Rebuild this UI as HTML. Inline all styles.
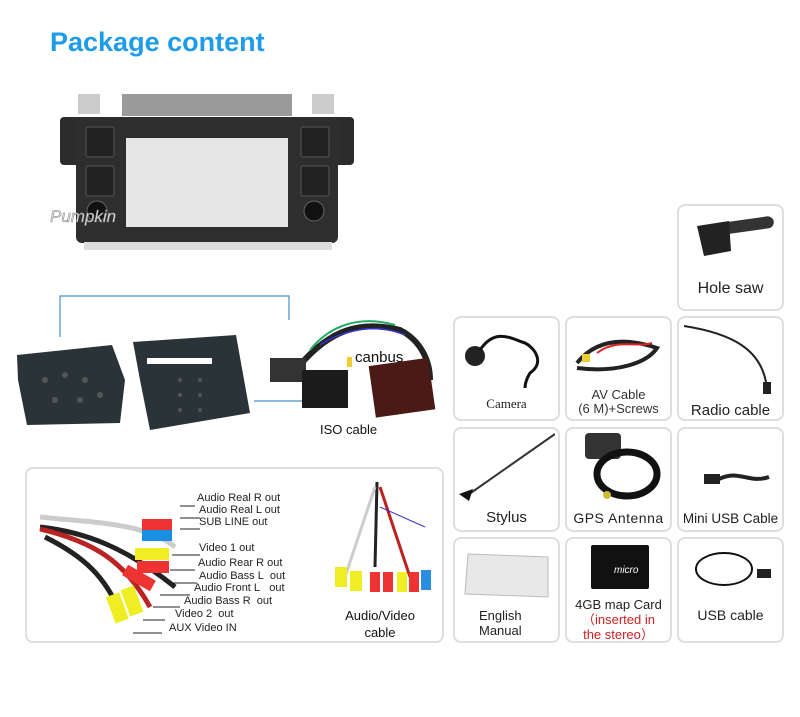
<!DOCTYPE html>
<html><head><meta charset="utf-8"><style>
body{margin:0;width:800px;height:717px;background:#fff;position:relative;overflow:hidden;font-family:"Liberation Sans","DejaVu Sans",sans-serif}
.a{position:absolute}
.box{position:absolute;border:2px solid #dedede;border-radius:8px;box-sizing:border-box;background:#fff}
.lbl{position:absolute;left:0;right:0;text-align:center;color:#222}
.av{position:absolute;font-size:11px;color:#222;white-space:nowrap}
</style></head><body>
<div class="a" style="left:50px;top:27px;font-size:27px;font-weight:bold;color:#1e9be9">Package content</div>

<!-- head unit -->
<svg class="a" style="left:0;top:80px" width="450" height="370" viewBox="0 0 450 370">
<rect x="122" y="14" width="170" height="22" fill="#9a9a9a"/>
<rect x="78" y="14" width="22" height="20" fill="#ccc"/><rect x="312" y="14" width="22" height="20" fill="#ccc"/>
<rect x="60" y="37" width="294" height="48" rx="4" fill="#2c2c2c"/>
<rect x="76" y="37" width="262" height="126" rx="6" fill="#2e2e2e"/>
<rect x="84" y="162" width="248" height="8" fill="#ddd"/>
<rect x="126" y="58" width="162" height="89" fill="#e6e6e6"/>
<rect x="86" y="47" width="28" height="30" rx="2" fill="#222" stroke="#555"/>
<rect x="86" y="86" width="28" height="30" rx="2" fill="#222" stroke="#555"/>
<rect x="301" y="47" width="28" height="30" rx="2" fill="#222" stroke="#555"/>
<rect x="301" y="86" width="28" height="30" rx="2" fill="#222" stroke="#555"/>
<circle cx="314" cy="131" r="10" fill="#111" stroke="#666"/>
<circle cx="97" cy="131" r="10" fill="#111" stroke="#666"/>
<text x="50" y="142" font-size="17" font-style="italic" fill="#ddd" stroke="#888" stroke-width=".5">Pumpkin</text>
<!-- blue line -->
<polyline points="60,257 60,216 289,216 289,240" fill="none" stroke="#4a90c8" stroke-width="1.2"/>
<line x1="254" y1="321" x2="302" y2="321" stroke="#4a90c8" stroke-width="1.2"/>
<!-- connectors -->
<polygon points="17,275 112,265 125,300 120,343 27,345 18,300" fill="#2a3338"/>
<polygon points="133,262 236,255 250,333 150,350 140,300" fill="#2a3338"/>
<rect x="147" y="278" width="65" height="6" fill="#fff"/>
<g fill="#555"><circle cx="45" cy="300" r="3"/><circle cx="65" cy="295" r="3"/><circle cx="85" cy="300" r="3"/><circle cx="55" cy="320" r="3"/><circle cx="80" cy="320" r="3"/><circle cx="100" cy="315" r="3"/><circle cx="180" cy="300" r="2"/><circle cx="200" cy="300" r="2"/><circle cx="180" cy="315" r="2"/><circle cx="200" cy="315" r="2"/><circle cx="180" cy="330" r="2"/><circle cx="200" cy="330" r="2"/></g>
<!-- iso cable -->
<path d="M300,285 C330,250 360,240 400,250 C420,260 430,280 430,300" fill="none" stroke="#222" stroke-width="6"/>
<path d="M310,270 C330,245 360,235 395,245" fill="none" stroke="#2a6" stroke-width="2"/>
<path d="M320,265 C335,255 370,240 405,255" fill="none" stroke="#33c" stroke-width="1.5"/>
<rect x="270" y="278" width="36" height="24" fill="#333"/>
<rect x="302" y="290" width="46" height="38" fill="#1b1b1b"/>
<rect x="347" y="277" width="5" height="10" fill="#ec3"/>
<rect x="372" y="282" width="60" height="52" fill="#4a1b16" transform="rotate(-8 400 308)"/>
<text x="355" y="282" font-size="15" fill="#111">canbus</text>
<text x="320" y="354" font-size="13" fill="#111">ISO cable</text>
</svg>

<!-- AV box -->
<div class="box" style="left:25px;top:467px;width:419px;height:176px"></div>
<svg class="a" style="left:25px;top:467px" width="419" height="176">
<g stroke-width="5" fill="none"><path d="M15,60 C60,65 100,80 150,120" stroke="#222"/><path d="M15,62 C70,75 100,95 125,140" stroke="#b22"/><path d="M15,50 C60,55 120,55 150,80" stroke="#ccc"/><path d="M20,70 C60,90 80,110 95,145" stroke="#222"/></g>
<rect x="117" y="52" width="30" height="12" fill="#e33"/><rect x="117" y="63" width="30" height="11" fill="#1a8ee0"/>
<rect x="110" y="81" width="34" height="12" fill="#ee2"/><rect x="112" y="94" width="32" height="12" fill="#e33"/>
<rect x="98" y="105" width="32" height="12" fill="#e33" transform="rotate(30 114 111)"/>
<rect x="85" y="127" width="14" height="28" fill="#ee2" transform="rotate(-20 92 140)"/><rect x="100" y="120" width="14" height="28" fill="#ee2" transform="rotate(-20 107 134)"/>
<g stroke="#222"><line x1="155" y1="39" x2="170" y2="39"/><line x1="155" y1="51" x2="175" y2="51"/><line x1="155" y1="62" x2="175" y2="62"/><line x1="147" y1="88" x2="175" y2="88"/><line x1="145" y1="103" x2="170" y2="103"/><line x1="142" y1="116" x2="172" y2="116"/><line x1="135" y1="128" x2="165" y2="128"/><line x1="128" y1="140" x2="155" y2="140"/><line x1="118" y1="153" x2="140" y2="153"/><line x1="108" y1="166" x2="137" y2="166"/></g>
<g stroke-width="3" fill="none"><path d="M352,15 L350,100" stroke="#222"/><path d="M350,20 L320,110" stroke="#ccc"/><path d="M355,20 L385,110" stroke="#b22"/><path d="M355,40 L400,60" stroke="#33c" stroke-width="1"/></g>
<rect x="310" y="100" width="12" height="20" fill="#ee2"/><rect x="325" y="104" width="12" height="20" fill="#ee2"/><rect x="345" y="105" width="10" height="20" fill="#e33"/><rect x="358" y="105" width="10" height="20" fill="#e33"/><rect x="372" y="105" width="10" height="20" fill="#ee2"/><rect x="384" y="105" width="10" height="20" fill="#e33"/><rect x="396" y="103" width="10" height="20" fill="#2a8ee0"/>
</svg>
<div class="av" style="left:197px;top:492px">Audio Real R out</div>
<div class="av" style="left:199px;top:504px">Audio Real L out</div>
<div class="av" style="left:199px;top:516px">SUB LINE out</div>
<div class="av" style="left:199px;top:542px">Video 1 out</div>
<div class="av" style="left:198px;top:557px">Audio Rear R out</div>
<div class="av" style="left:199px;top:570px">Audio Bass L&nbsp; out</div>
<div class="av" style="left:194px;top:582px">Audio Front L&nbsp;&nbsp; out</div>
<div class="av" style="left:184px;top:595px">Audio Bass R&nbsp; out</div>
<div class="av" style="left:175px;top:608px">Video 2&nbsp; out</div>
<div class="av" style="left:169px;top:622px">AUX Video IN</div>
<div class="a" style="left:330px;top:607px;width:100px;text-align:center;font-size:13px;line-height:17px;color:#111">Audio/Video<br>cable</div>

<!-- grid boxes -->
<div class="box" style="left:677px;top:204px;width:107px;height:107px"><svg class="a" style="left:10px;top:5px" width="90" height="55"><rect x="35" y="8" width="50" height="12" rx="6" fill="#333" transform="rotate(-8 60 14)"/><path d="M8,15 L40,10 L42,40 L15,45 Z" fill="#222"/></svg><div class="lbl" style="top:74px;font-size:16px">Hole saw</div></div>

<div class="box" style="left:453px;top:316px;width:107px;height:105px"><svg class="a" width="100" height="70"><circle cx="20" cy="38" r="10" fill="#222"/><path d="M25,32 C40,10 55,20 70,25 C80,30 90,45 75,55 C72,60 70,65 70,70" fill="none" stroke="#111" stroke-width="3"/></svg><div class="lbl" style="top:78px;font-size:13px;font-family:'Liberation Serif',serif">Camera</div></div>
<div class="box" style="left:565px;top:316px;width:107px;height:105px"><svg class="a" width="100" height="70"><path d="M10,45 C30,20 60,20 90,30 C80,45 50,55 10,50" fill="none" stroke="#222" stroke-width="4"/><path d="M30,35 C50,20 70,30 85,25" fill="none" stroke="#d22" stroke-width="2"/><rect x="15" y="36" width="8" height="8" fill="#ec3"/></svg><div class="lbl" style="top:70px;font-size:13px;line-height:14px;color:#333">AV Cable<br>(6 M)+Screws</div></div>
<div class="box" style="left:677px;top:316px;width:107px;height:105px"><svg class="a" width="100" height="80"><path d="M5,8 C50,15 85,30 88,72" fill="none" stroke="#222" stroke-width="2"/><rect x="84" y="64" width="8" height="12" fill="#222"/></svg><div class="lbl" style="top:84px;font-size:15px">Radio cable</div></div>

<div class="box" style="left:453px;top:427px;width:107px;height:105px"><svg class="a" width="100" height="80"><line x1="10" y1="68" x2="100" y2="5" stroke="#333" stroke-width="2"/><path d="M4,65 L18,60 L14,72 Z" fill="#111"/></svg><div class="lbl" style="top:80px;font-size:15px">Stylus</div></div>
<div class="box" style="left:565px;top:427px;width:107px;height:105px"><svg class="a" width="100" height="80"><rect x="18" y="4" width="36" height="26" rx="4" fill="#333"/><ellipse cx="60" cy="45" rx="30" ry="22" fill="none" stroke="#111" stroke-width="7"/><circle cx="40" cy="66" r="4" fill="#cb3"/></svg><div class="lbl" style="top:81px;font-size:14px;letter-spacing:.5px">GPS Antenna</div></div>
<div class="box" style="left:677px;top:427px;width:107px;height:105px"><svg class="a" width="100" height="70"><rect x="25" y="45" width="16" height="10" fill="#222"/><path d="M40,50 C60,40 70,55 90,48" fill="none" stroke="#222" stroke-width="4"/></svg><div class="lbl" style="top:82px;font-size:13.5px">Mini USB Cable</div></div>

<div class="box" style="left:453px;top:537px;width:107px;height:106px"><svg class="a" style="left:8px;top:10px" width="90" height="50"><polygon points="5,5 85,8 85,48 2,45" fill="#e8e8e8" stroke="#bbb"/></svg><div class="lbl" style="top:69px;left:24px;text-align:left;font-size:13px;line-height:15px">English<br>Manual</div></div>
<div class="box" style="left:565px;top:537px;width:107px;height:106px"><svg class="a" style="left:22px;top:6px" width="60" height="46"><rect x="2" y="0" width="58" height="44" rx="2" fill="#111"/><text x="25" y="28" font-size="10" fill="#fff" font-style="italic">micro</text></svg><div class="lbl" style="top:58px;font-size:13px;line-height:15px;color:#222">4GB map Card<br><span style="color:#c22">（inserted in<br>the stereo）</span></div></div>
<div class="box" style="left:677px;top:537px;width:107px;height:106px"><svg class="a" width="100" height="60"><ellipse cx="45" cy="30" rx="28" ry="16" fill="none" stroke="#111" stroke-width="2"/><rect x="78" y="30" width="14" height="9" fill="#222"/></svg><div class="lbl" style="top:68px;font-size:14px">USB cable</div></div>
</body></html>
